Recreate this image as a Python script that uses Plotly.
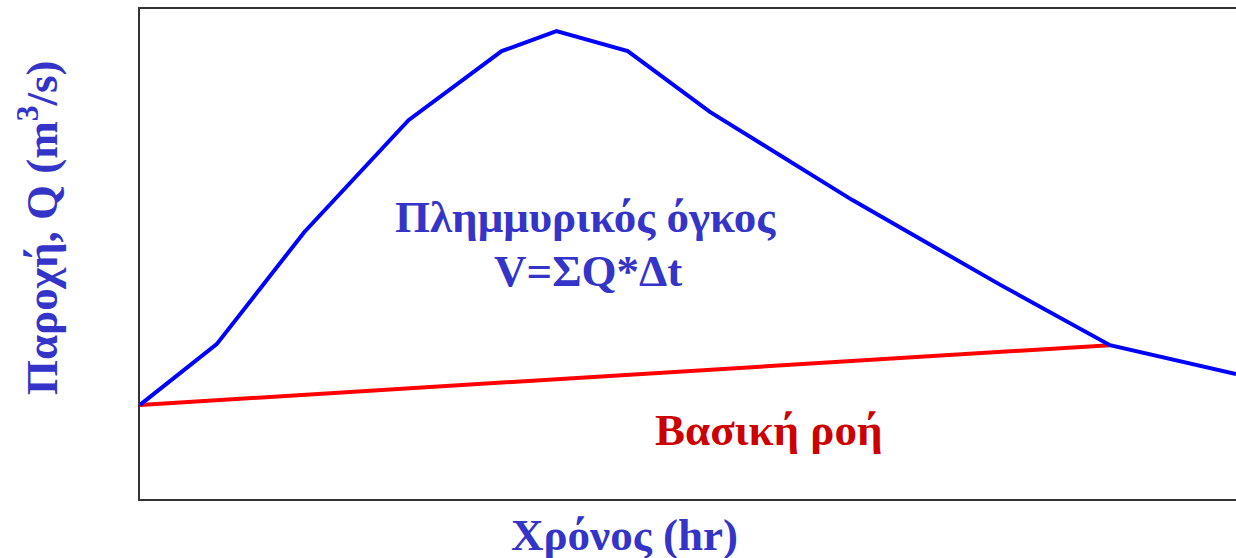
import plotly.graph_objects as go

# Flood hydrograph: time (hr) and discharge Q (m3/s)
time_hr = [0, 1.4, 3.0, 4.9, 6.6, 7.6, 8.9, 10.4, 13.0, 15.7, 17.7, 20.0]
discharge = [19.2, 31.6, 54.5, 77.3, 91.4, 95.5, 91.4, 79.0, 61.0, 43.7, 31.4, 25.5]

# Base flow separation line (start of rise to end of direct runoff)
base_time = [0, 17.7]
base_flow = [19.2, 31.4]

serif = "Liberation Serif"
text_blue = "#3434c8"
text_red = "#cc0000"
label_size = 45

fig = go.Figure()
fig.add_trace(go.Scatter(x=base_time, y=base_flow, mode="lines",
                         line=dict(color="#ff0000", width=4), hoverinfo="skip"))
fig.add_trace(go.Scatter(x=time_hr, y=discharge, mode="lines",
                         line=dict(color="#0000ff", width=4), hoverinfo="skip"))

fig.add_annotation(x=8.13, y=57.5, text="Πλημμυρικός όγκος", showarrow=False,
                   font=dict(family=serif, size=label_size, color=text_blue, weight="bold"))
fig.add_annotation(x=8.18, y=46.5, text="V=ΣQ*Δt", showarrow=False,
                   font=dict(family=serif, size=label_size, color=text_blue, weight="bold"))
fig.add_annotation(x=11.46, y=14.1, text="Βασική ροή", showarrow=False,
                   font=dict(family=serif, size=label_size, color=text_red, weight="bold"))

# Axis titles
fig.add_annotation(xref="paper", yref="paper", x=0.4425, y=-0.0735,
                   xanchor="center", yanchor="middle", showarrow=False,
                   text="Χρόνος (hr)",
                   font=dict(family=serif, size=label_size, color=text_blue, weight="bold"))
fig.add_annotation(xref="paper", yref="paper", x=-0.0931, y=0.553,
                   xanchor="center", yanchor="middle", showarrow=False, textangle=-90,
                   text="Παροχή, Q (m<sup>3</sup>/s)",
                   font=dict(family=serif, size=label_size, color=text_blue, weight="bold"))

fig.update_layout(
    width=1236, height=558,
    margin=dict(l=140, r=0, t=9, b=59),
    paper_bgcolor="white", plot_bgcolor="white",
    showlegend=False,
    xaxis=dict(range=[0, 20], showgrid=False, zeroline=False, showticklabels=False,
               ticks="", showline=True, mirror=True, linecolor="#333333", linewidth=2),
    yaxis=dict(range=[0, 100], showgrid=False, zeroline=False, showticklabels=False,
               ticks="", showline=True, linecolor="#333333", linewidth=2),
)

fig.write_html("out.html")
